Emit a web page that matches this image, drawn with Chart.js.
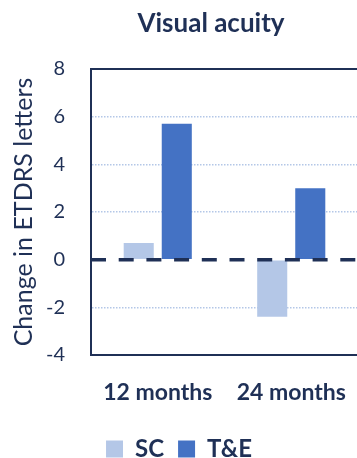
<!DOCTYPE html>
<html>
<head>
<meta charset="utf-8">
<script src="https://cdn.jsdelivr.net/npm/chart.js@4.4.1/dist/chart.umd.min.js"></script>
<style>
  html, body { margin: 0; padding: 0; background: #fff; overflow: hidden; }
  #wrap { position: relative; width: 367px; height: 458px; }
  #title {
    position: absolute; left: 0; top: 6px; width: 422px; text-align: center;
    font: bold 26px Lato, sans-serif; color: #1f3056;
  }
</style>
</head>
<body>
<div id="wrap">
  <canvas id="chart" width="367" height="458"></canvas>
  <div id="title">Visual acuity</div>
</div>
<script>
const categories = ["12 months", "24 months"];
const scValues = [0.7, -2.4];
const teValues = [5.7, 3.0];
const seriesNames = ["SC", "T&E"];
const yTicks = [-4, -2, 0, 2, 4, 6, 8];

const navy = "#1f3056";
const light = "#b4c7e7";
const blue = "#4472c4";
const none = "rgba(0,0,0,0)";

// plot frame (top, left, bottom) and the dashed line at y = 0 over the bars
const frameLines = {
  id: "frameLines",
  afterDatasetsDraw(chart) {
    const { ctx, chartArea, scales } = chart;
    const { left, right } = chartArea;
    const yTop = scales.y.getPixelForValue(scales.y.max);
    const yBottom = scales.y.getPixelForValue(scales.y.min);
    const yZero = scales.y.getPixelForValue(0);
    ctx.save();
    ctx.strokeStyle = navy;
    ctx.lineWidth = 2;
    ctx.beginPath();
    ctx.moveTo(right, yTop);
    ctx.lineTo(left, yTop);
    ctx.lineTo(left, yBottom);
    ctx.lineTo(right, yBottom);
    ctx.stroke();
    ctx.lineWidth = 3.5;
    ctx.setLineDash([15, 12.7]);
    ctx.beginPath();
    ctx.moveTo(left, yZero);
    ctx.lineTo(right, yZero);
    ctx.stroke();
    ctx.restore();
  },
};

new Chart(document.getElementById("chart"), {
  type: "bar",
  data: {
    labels: categories,
    datasets: [
      { label: seriesNames[0], data: scValues, backgroundColor: light },
      { label: seriesNames[1], data: teValues, backgroundColor: blue },
    ],
  },
  options: {
    responsive: false,
    animation: false,
    categoryPercentage: 0.57,
    barPercentage: 0.79,
    layout: { padding: { top: 69, right: 9, bottom: -13, left: 0 } },
    plugins: {
      tooltip: { enabled: false },
      legend: {
        position: "bottom",
        labels: {
          color: navy,
          boxWidth: 17,
          boxHeight: 17,
          padding: 14,
          font: { family: "Lato", size: 24, weight: "bold" },
        },
      },
    },
    scales: {
      x: {
        grid: { display: false },
        border: { color: none, width: 2 },
        ticks: {
          color: navy,
          padding: 16,
          font: { family: "Lato", size: 23, weight: "bold" },
        },
        afterFit(scale) { scale.height = 68; },
      },
      y: {
        min: -4,
        max: 8,
        afterBuildTicks(scale) { scale.ticks = yTicks.map((v) => ({ value: v })); },
        grid: {
          drawTicks: false,
          // dotted guides only between the frame lines
          color: (c) => {
            const v = c.tick && c.tick.value;
            return v === 8 || v === -4 || v === 0 ? none : light;
          },
          lineWidth: 1.5,
        },
        border: {
          color: none,
          width: 2,
          dash: [1.5, 1.5],
        },
        ticks: {
          color: navy,
          padding: 26,
          font: { family: "Lato", size: 20 },
        },
        title: {
          display: true,
          text: "Change in ETDRS letters",
          color: navy,
          padding: { top: 9, bottom: 0 },
          font: { family: "Lato", size: 25 },
        },
        afterFit(scale) { scale.width = 91; },
      },
    },
  },
  plugins: [frameLines],
});
</script>
</body>
</html>
